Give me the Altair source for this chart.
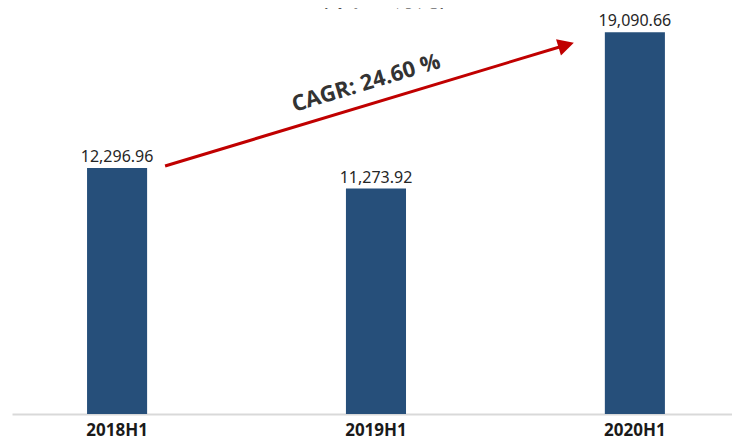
import altair as alt
import pandas as pd

# ---- data ----
periods = ["2018H1", "2019H1", "2020H1"]
revenue = [12296.96, 11273.92, 19090.66]
value_labels = ["12,296.96", "11,273.92", "19,090.66"]
title_text = "（单位：万元）"
cagr_text = "CAGR: 24.60 %"
arrow_from = ["2018H1"]
arrow_to = ["2020H1"]
arrow_start_value = [12400]
arrow_end_value = [18450]
cagr_anchor_period = ["2019H1"]
cagr_anchor_value = [16550]

bars_df = pd.DataFrame({"period": periods, "value": revenue, "label": value_labels})
arrow_df = pd.DataFrame({"from": arrow_from, "to": arrow_to,
                         "v0": arrow_start_value, "v1": arrow_end_value})
cagr_df = pd.DataFrame({"period": cagr_anchor_period, "v": cagr_anchor_value, "t": [cagr_text]})
title_df = pd.DataFrame({"t": [title_text]})

BAR = "#264F7A"
RED = "#C00000"

x_scale = alt.Scale(domain=periods, paddingInner=0.768, paddingOuter=0.2745, align=0.528)
y_scale = alt.Scale(domain=[0, 20000], nice=False, zero=True)

x_axis = alt.Axis(title=None, labelAngle=0, ticks=False, tickSize=0, grid=False,
                  domainColor="#D9D9D9", domainWidth=2,
                  labelFont="Noto Sans", labelFontSize=17, labelFontWeight="bold",
                  labelColor="#1a1a1a", labelBaseline="alphabetic", labelPadding=21)

bars = alt.Chart(bars_df).mark_bar(color=BAR).encode(
    x=alt.X("period:N", scale=x_scale, axis=x_axis, sort=periods),
    y=alt.Y("value:Q", scale=y_scale, axis=None),
)

labels = alt.Chart(bars_df).mark_text(
    font="Noto Sans", fontSize=16, color="#262626", baseline="alphabetic", dy=-6
).encode(
    x=alt.X("period:N", sort=periods),
    y=alt.Y("value:Q"),
    text="label:N",
)

arrow_line = alt.Chart(arrow_df).mark_rule(
    color=RED, strokeWidth=3, xOffset=48, x2Offset=-68.7
).encode(
    x=alt.X("from:N"),
    x2="to:N",
    y=alt.Y("v0:Q"),
    y2="v1:Q",
)

arrow_head = alt.Chart(arrow_df).mark_point(
    shape="M1,0L-1,-1.06L-1,1.06Z", filled=True, color=RED, opacity=1,
    size=256, angle=343.2, xOffset=-68.7, strokeWidth=0
).encode(
    x=alt.X("to:N"),
    y=alt.Y("v1:Q"),
)

cagr = alt.Chart(cagr_df).mark_text(
    font="Open Sans", fontSize=22, fontWeight="bold", color="#333333",
    angle=343.2, xOffset=-10
).encode(
    x=alt.X("period:N"),
    y=alt.Y("v:Q"),
    text="t:N",
)

title = alt.Chart(title_df).mark_text(
    font="Noto Sans CJK SC", fontSize=22, fontWeight="bold", color="#1a1a1a",
    baseline="bottom"
).encode(
    x=alt.value(372),
    y=alt.value(-3),
    text="t:N",
)

chart = alt.layer(bars, labels, arrow_line, arrow_head, cagr, title).properties(
    width=720, height=400,
    autosize=alt.AutoSizeParams(type="none"),
    padding={"left": 4, "top": 6, "right": 0, "bottom": 22},
).configure_view(stroke=None)

chart.save("out.html", embed_options={"renderer": "svg", "actions": False})
